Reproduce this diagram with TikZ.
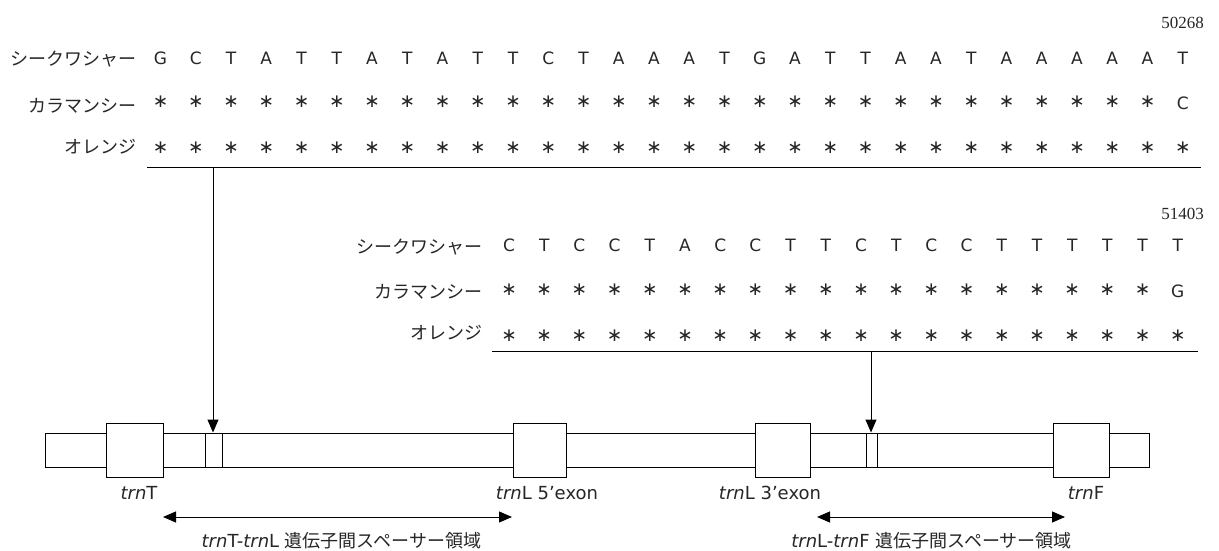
\documentclass[tikz,border=0pt]{standalone}
\usepackage{fontspec}
\setmainfont{DejaVu Sans}
\newfontfamily\jpfont{Noto Sans CJK JP}
\newfontfamily\numfont{Liberation Serif}
\usetikzlibrary{arrows.meta}
\colorlet{ink}{black!85}
\begin{document}
\begin{tikzpicture}[x=1pt,y=-1pt,
  seq/.style={inner sep=0pt,text=ink,font=\fontsize{17}{17}\selectfont},
  astx/.style={inner sep=0pt,text=ink,font=\fontsize{18.5}{18.5}\selectfont},
  species/.style={inner sep=0pt,anchor=east,text=ink,font=\jpfont\fontsize{18}{18}\selectfont},
  posnum/.style={inner sep=0pt,anchor=east,text=ink,font=\numfont\fontsize{17}{17}\selectfont},
  gene/.style={draw,fill=white,line width=1pt,minimum height=54pt,inner sep=0pt},
  site/.style={draw,line width=1pt,minimum height=34pt,inner sep=0pt},
  lbl/.style={inner sep=0pt,anchor=base,text=ink,font=\fontsize{18}{18}\selectfont},
  conn/.style={line width=1pt},
  arrdown/.style={-{Triangle[length=13pt,width=11pt]}},
  dbl/.style={{Triangle[length=13pt,width=11pt]}-{Triangle[length=13pt,width=11pt]}}
]
\useasboundingbox (0,0) rectangle (1219,551);

% ---- top alignment block ----
\node[posnum] (n1) at (1204,23) {50268};
\node[species] (s1) at (137,59) {シークワシャー};
\node[species] (s2) at (137,106) {カラマンシー};
\node[species] (s3) at (137,147) {オレンジ};
\foreach \c [count=\i from 0] in {G,C,T,A,T,T,A,T,A,T,T,C,T,A,A,A,T,G,A,T,T,A,A,T,A,A,A,A,A,T}
  \node[seq] (ta\i) at ({160.5+35.25*\i},58.5) {\c};
\foreach \i in {0,...,28}
  \node[astx] (tb\i) at ({160.5+35.25*\i},101.5) {∗};
\node[seq] (tb29) at ({160.5+35.25*29},103.5) {C};
\foreach \i in {0,...,29}
  \node[astx] (tc\i) at ({160.5+35.25*\i},148) {∗};
\coordinate (L1a) at (147,167);
\coordinate (L1b) at (1201,167);
\draw[conn] (L1a) -- (L1b);

% ---- middle alignment block ----
\node[posnum] (n2) at (1204,214) {51403};
\node[species] (m1) at (483,247) {シークワシャー};
\node[species] (m2) at (483,291.5) {カラマンシー};
\node[species] (m3) at (483,333) {オレンジ};
\foreach \c [count=\i from 0] in {C,T,C,C,T,A,C,C,T,T,C,T,C,C,T,T,T,T,T,T}
  \node[seq] (ma\i) at ({509+35.2*\i},245) {\c};
\foreach \i in {0,...,18}
  \node[astx] (mb\i) at ({509+35.2*\i},290) {∗};
\node[seq] (mb19) at ({509+35.2*19},291.5) {G};
\foreach \i in {0,...,19}
  \node[astx] (mc\i) at ({509+35.2*\i},336) {∗};
\coordinate (L2a) at (492,351);
\coordinate (L2b) at (1198,351);
\draw[conn] (L2a) -- (L2b);

% ---- chloroplast region map ----
\node[draw,line width=1pt,minimum width=1104pt,minimum height=34pt,inner sep=0pt] (bb) at (597,450) {};
\node[site,minimum width=17pt] (site1) at (213.5,450) {};
\node[site,minimum width=11pt] (site2) at (871.5,450) {};
\node[gene,minimum width=57pt] (gT) at (134.5,450) {};
\node[gene,minimum width=53pt] (gL5) at (539.5,450) {};
\node[gene,minimum width=55pt] (gL3) at (782.5,450) {};
\node[gene,minimum width=56pt] (gF) at (1081,450) {};

\node[lbl] (tT) at (139,499) {\textit{trn}T};
\node[lbl] (tL5) at (547,499) {\textit{trn}L 5’exon};
\node[lbl] (tL3) at (770,499) {\textit{trn}L 3’exon};
\node[lbl] (tF) at (1086,499) {\textit{trn}F};

% arrows from alignments to sites
\coordinate (v1) at (213,167);
\draw[conn,arrdown] (v1) -- (v1 |- bb.north);
\coordinate (v2) at (871,351);
\draw[conn,arrdown] (v2) -- (v2 |- bb.north);

% spacer regions
\coordinate (s1a) at (163,517);
\coordinate (s1b) at (512,517);
\draw[conn,dbl] (s1a) -- (s1b);
\coordinate (s2a) at (817,517);
\coordinate (s2b) at (1065,517);
\draw[conn,dbl] (s2a) -- (s2b);
\node[lbl] (r1) at (341.5,547) {\textit{trn}T-\textit{trn}L {\jpfont 遺伝子間スペーサー領域}};
\node[lbl] (r2) at (931.5,547) {\textit{trn}L-\textit{trn}F {\jpfont 遺伝子間スペーサー領域}};
\end{tikzpicture}
\end{document}
